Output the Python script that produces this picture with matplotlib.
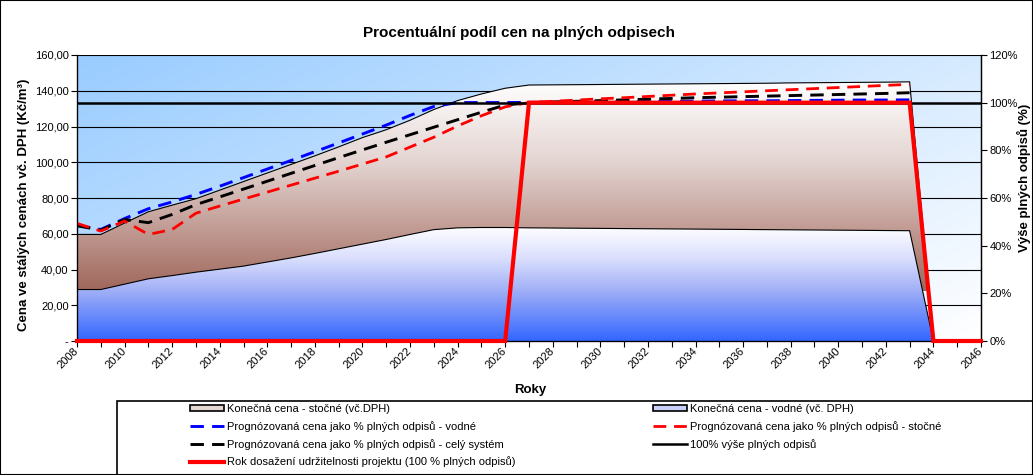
import numpy as np
import matplotlib
matplotlib.use("Agg")
import matplotlib.pyplot as plt
from matplotlib.colors import LinearSegmentedColormap, to_rgb
from matplotlib.patches import PathPatch, Rectangle
from matplotlib.lines import Line2D
from matplotlib.ticker import FuncFormatter, MultipleLocator

plt.rcParams['font.family'] = ['Liberation Sans', 'DejaVu Sans']

# roky 2008 - 2046
roky = np.arange(2008, 2047)

# konecna cena - vodne (spodni plocha)
vodne = [28.8, 28.8, 31.8, 34.8, 36.6, 38.5, 40.2, 41.9, 44.2, 46.5,
         49.0, 51.6, 54.2, 56.8, 59.6, 62.3, 63.3, 63.5, 63.5, 63.3,
         63.2, 63.1, 63.0, 62.9, 62.8, 62.7, 62.6, 62.5, 62.4, 62.3,
         62.2, 62.1, 62.0, 61.9, 61.8, 61.7, 0, 0, 0]
# vodne + stocne (horni hrana plochy stocneho)
celkem = [59.6, 59.6, 66.0, 72.3, 76.0, 79.6, 84.4, 89.2, 94.0, 98.8,
          103.6, 108.6, 113.8, 118.2, 123.5, 129.5, 134.5, 138.2, 141.4, 143.2,
          143.3, 143.4, 143.5, 143.6, 143.7, 143.8, 143.9, 144.0, 144.1, 144.2,
          144.4, 144.5, 144.6, 144.7, 144.8, 145.0, 0, 0, 0]

nan = np.nan
# prognozovane ceny jako % plnych odpisu
progn_vodne = [64.7, 62.4, 68.5, 74.0, 77.8, 82.0, 86.6, 91.4, 96.2, 101.0,
               105.9, 110.8, 115.8, 120.8, 126.2, 131.2, 133.4, 133.4, 133.4, 133.5,
               133.6, 133.7, 133.8, 133.9, 134.0, 134.1, 134.2, 134.3, 134.4, 134.4,
               134.5, 134.6, 134.7, 134.8, 134.8, 134.9, nan, nan, nan]
progn_stocne = [65.8, 61.5, 67.1, 59.6, 62.4, 71.5, 75.5, 79.4, 83.3, 87.2,
                91.1, 95.0, 99.0, 103.0, 108.5, 114.0, 120.3, 126.0, 131.0, 133.4,
                134.1, 134.8, 135.5, 136.1, 136.8, 137.5, 138.2, 138.8, 139.4, 140.0,
                140.6, 141.2, 141.8, 142.4, 143.0, 143.6, nan, nan, nan]
progn_celkem = [64.5, 62.0, 68.0, 66.2, 70.8, 76.3, 80.6, 85.0, 89.4, 93.8,
                98.2, 102.6, 106.9, 111.2, 115.4, 119.6, 123.8, 128.0, 132.0, 133.3,
                133.7, 134.1, 134.5, 134.9, 135.3, 135.7, 136.1, 136.4, 136.7, 137.0,
                137.3, 137.6, 137.9, 138.2, 138.5, 138.9, nan, nan, nan]

# prava osa (podil plnych odpisu)
udrzitelnost = [0] * 19 + [1] * 17 + [0] * 3
plne_odpisy = [1] * 39

popisky = ['Konečná cena - stočné (vč.DPH)',
           'Prognózovaná cena jako % plných odpisů - vodné',
           'Prognózovaná cena jako % plných odpisů - celý systém',
           'Rok dosažení udržitelnosti projektu (100 % plných odpisů)',
           'Konečná cena - vodné (vč. DPH)',
           'Prognózovaná cena jako % plných odpisů - stočné',
           '100% výše plných odpisů']


def gradient_area(ax, x, y_low, y_high, cmap, v0, v1, z):
    coll = ax.fill_between(x, y_low, y_high, facecolor='none', edgecolor='none', lw=0)
    clip = PathPatch(coll.get_paths()[0], transform=ax.transData,
                     facecolor='none', edgecolor='none')
    ax.add_patch(clip)
    grad = np.linspace(0, 1, 256).reshape(-1, 1)
    im = ax.imshow(grad, extent=[x[0], x[-1], v0, v1], origin='lower',
                   aspect='auto', cmap=cmap, zorder=z, interpolation='bicubic')
    im.set_clip_path(clip)


fig = plt.figure(figsize=(10.33, 4.75), dpi=100)
ax = fig.add_axes([77 / 1033, 1 - 341 / 475, 904 / 1033, 286 / 475])
ax.patch.set_visible(False)

# pozadi - prechod modra -> bila
h, w = 100, 200
xa = np.linspace(0, 1, w)[None, :]
ya = np.linspace(1, 0, h)[:, None]
t = np.clip(0.6 * xa + 0.4 * (1 - ya), 0, 1)[..., None]
modra = np.array(to_rgb('#99CCFF'))
bg = modra * (1 - t) + np.ones(3) * t
ax.imshow(bg, extent=[0, 1, 0, 1], transform=ax.transAxes, aspect='auto',
          zorder=0.1, interpolation='bicubic')

cm_vodne = LinearSegmentedColormap.from_list(
    'v', [(0, '#3366FF'), (0.45, '#A3B1F7'), (0.72, '#DADFFD'), (1, '#FFFFFF')])
cm_stocne = LinearSegmentedColormap.from_list(
    's', [(0, '#A0675B'), (0.27, '#BE978F'), (0.61, '#E3D4D1'), (1, '#FFFFFF')])

gradient_area(ax, roky, 0, vodne, cm_vodne, 0, 64, 1)
gradient_area(ax, roky, vodne, celkem, cm_stocne, 28, 146, 1)
ax.plot(roky, vodne, color='black', lw=0.8, zorder=2)
ax.plot(roky, celkem, color='black', lw=0.8, zorder=2)

dash = (0, (4.6, 2.8))
ax.plot(roky, progn_vodne, color='#0000FF', lw=2.1, ls=dash, zorder=3)
ax.plot(roky, progn_celkem, color='black', lw=2.1, ls=dash, zorder=3)
ax.plot(roky, progn_stocne, color='#FF0000', lw=2.0, ls=dash, zorder=3)

ax.set_xlim(2008, 2046)
ax.set_ylim(0, 160)
ax.yaxis.set_major_locator(MultipleLocator(20))
ax.yaxis.set_major_formatter(FuncFormatter(
    lambda v, p: '-' if v == 0 else f'{v:.2f}'.replace('.', ',')))
ax.xaxis.set_major_locator(MultipleLocator(2))
ax.xaxis.set_minor_locator(MultipleLocator(1))
ax.xaxis.set_major_formatter(FuncFormatter(lambda v, p: f'{int(v)}'))
ax.yaxis.grid(True, color='black', lw=0.8)
ax.set_axisbelow(True)
ax.tick_params(axis='y', direction='out', length=4, width=0.8, labelsize=8, pad=2)
ax.tick_params(axis='x', which='both', direction='out', length=4, width=0.8,
               labelsize=8, pad=2)
plt.setp(ax.get_xticklabels(), rotation=45, ha='right', va='center',
         rotation_mode='anchor')
ax.spines['top'].set_visible(False)
for s in ['left', 'bottom', 'right']:
    ax.spines[s].set_linewidth(0.9)

ax2 = ax.twinx()
ax2.set_ylim(0, 1.2)
ax2.yaxis.set_major_locator(MultipleLocator(0.2))
ax2.yaxis.set_major_formatter(FuncFormatter(lambda v, p: f'{v * 100:.0f}%'))
ax2.tick_params(axis='y', direction='out', length=4, width=0.8, labelsize=8, pad=2)
ax2.spines['top'].set_visible(False)
ax2.spines['right'].set_linewidth(0.9)
ax2.plot(roky, plne_odpisy, color='black', lw=1.8, zorder=3)
ax2.plot(roky, udrzitelnost, color='#FF0000', lw=3, zorder=4, clip_on=False,
         solid_joinstyle='miter')

fig.text(519 / 1033, 1 - 33 / 475, 'Procentuální podíl cen na plných odpisech',
         ha='center', va='center', fontsize=11, fontweight='bold')
fig.text(24 / 1033, 1 - 205 / 475, 'Cena ve stálých cenách vč. DPH (Kč/m³)',
         ha='center', va='center', rotation=90, fontsize=9.5, fontweight='bold')
fig.text(1024 / 1033, 1 - 178 / 475, 'Výše plných odpisů (%)',
         ha='center', va='center', rotation=90, fontsize=9.5, fontweight='bold')
fig.text(530 / 1033, 1 - 390 / 475, 'Roky', ha='center', va='center',
         fontsize=9.5, fontweight='bold')

# legenda
h_stocne = Rectangle((0, 0), 1, 1, facecolor='#E6D6D2', edgecolor='black', lw=1.2)
h_vodne = Rectangle((0, 0), 1, 1, facecolor='#C8D0F8', edgecolor='black', lw=1.2)
h_modra = Line2D([], [], color='#0000FF', lw=2.1, ls=dash)
h_cerna = Line2D([], [], color='black', lw=2.1, ls=dash)
h_cervena = Line2D([], [], color='#FF0000', lw=2.0, ls=dash)
h_rok = Line2D([], [], color='#FF0000', lw=3)
h_100 = Line2D([], [], color='black', lw=1.8)

opts = dict(loc='upper left', frameon=False, fontsize=8, handlelength=3.1,
            handletextpad=0.25, labelspacing=0.62, borderpad=0, borderaxespad=0,
            handleheight=0.5)
fig.legend([h_stocne, h_modra, h_cerna, h_rok], popisky[:4],
           bbox_to_anchor=(190 / 1033, 1 - 404 / 475), **opts)
fig.legend([h_vodne, h_cervena, h_100], popisky[4:],
           bbox_to_anchor=(653 / 1033, 1 - 404 / 475), **opts)
fig.add_artist(Rectangle((117 / 1033, -0.05), (1040 - 117) / 1033, 0.05 + 1 - 401 / 475,
                         transform=fig.transFigure, fill=False, edgecolor='black', lw=1.2))
fig.add_artist(Rectangle((0, 0), 1, 1, transform=fig.transFigure, fill=False,
                         edgecolor='black', lw=1.5))

fig.savefig('out.png', dpi=100)
